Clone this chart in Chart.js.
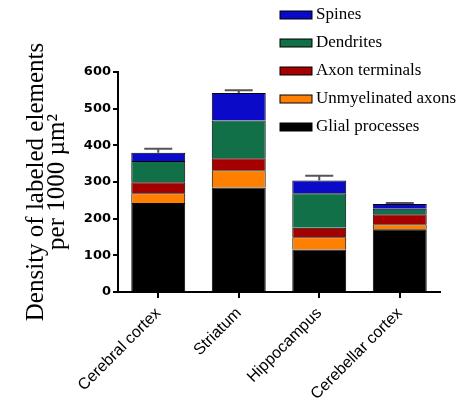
<!DOCTYPE html>
<html>
<head>
<meta charset="utf-8">
<script src="https://cdn.jsdelivr.net/npm/chart.js@4"></script>
<style>
  html, body { margin: 0; padding: 0; background: #fff; }
  #wrap { width: 463px; height: 408px; }
</style>
</head>
<body>
<div id="wrap"><canvas id="myChart" width="463" height="408"></canvas></div>
<script>
var regions = ['Cerebral cortex', 'Striatum', 'Hippocampus', 'Cerebellar cortex'];

// stacked from the bottom up
var glial = [243, 285, 116, 171];
var unmyelinated = [26, 47, 33, 14];
var axonTerminals = [30, 33, 26, 27];
var dendrites = [58, 103, 94, 15];
var spines = [23, 75, 35, 13];
var totalError = [11, 7, 13, 3];

var yTicks = [0, 100, 200, 300, 400, 500, 600];

// error bar on top of each stack, upward only
var errorBars = {
  id: 'errorBars',
  afterDatasetsDraw: function (chart) {
    var c = chart.ctx;
    var y = chart.scales.y;
    var meta = chart.getDatasetMeta(chart.data.datasets.length - 1);
    c.save();
    c.strokeStyle = '#555';
    c.lineWidth = 2;
    regions.forEach(function (r, i) {
      var sum = 0;
      chart.data.datasets.forEach(function (ds) { sum += ds.data[i]; });
      var x = meta.data[i].x;
      var y0 = y.getPixelForValue(sum);
      var y1 = y.getPixelForValue(sum + totalError[i]);
      c.beginPath();
      c.moveTo(x, y0);
      c.lineTo(x, y1);
      c.moveTo(x - 14, y1);
      c.lineTo(x + 14, y1);
      c.stroke();
    });
    c.restore();
  }
};

// legend drawn top-right, list order reversed like the figure
var sideLegend = {
  id: 'sideLegend',
  afterDraw: function (chart) {
    var c = chart.ctx;
    var items = chart.data.datasets.slice().reverse();
    c.save();
    c.font = '17px "Liberation Serif", "Times New Roman", serif';
    c.textBaseline = 'middle';
    items.forEach(function (ds, k) {
      var cy = 15 + k * 28;
      c.fillStyle = ds.backgroundColor;
      c.fillRect(280, cy - 4, 32, 8);
      c.strokeStyle = '#000';
      c.lineWidth = 1;
      c.strokeRect(280, cy - 4, 32, 8);
      c.fillStyle = '#000';
      c.fillText(ds.label, 316, cy);
    });
    c.restore();
  }
};

var ctx = document.getElementById('myChart');

var myChart = new Chart(ctx, {
  type: 'bar',
  data: {
    labels: regions,
    datasets: [
      { label: 'Glial processes', data: glial, backgroundColor: '#000000' },
      { label: 'Unmyelinated axons', data: unmyelinated, backgroundColor: '#ff8000' },
      { label: 'Axon terminals', data: axonTerminals, backgroundColor: '#a50000' },
      { label: 'Dendrites', data: dendrites, backgroundColor: '#117048' },
      { label: 'Spines', data: spines, backgroundColor: '#0a0ac8' }
    ].map(function (d) {
      d.borderColor = '#000';
      d.borderWidth = 1;
      d.barPercentage = 0.67;
      d.categoryPercentage = 1;
      return d;
    })
  },
  options: {
    responsive: false,
    animation: false,
    layout: { padding: { top: 72, right: 23, left: 0, bottom: 0 } },
    plugins: { legend: { display: false }, tooltip: { enabled: false } },
    scales: {
      x: {
        stacked: true,
        grid: { display: true, drawOnChartArea: false, offset: false, drawTicks: true, tickLength: 6, color: '#000', lineWidth: 2 },
        border: { color: '#000', width: 2 },
        ticks: {
          color: '#000', maxRotation: 45, minRotation: 45, padding: 6,
          font: { family: 'Arial, "Liberation Sans", sans-serif', size: 16 }
        },
        afterFit: function (s) { s.height = 116; }
      },
      y: {
        stacked: true,
        min: 0, max: 600,
        afterBuildTicks: function (s) { s.ticks = yTicks.map(function (v) { return { value: v }; }); },
        grid: { display: true, drawOnChartArea: false, drawTicks: true, tickLength: 5, color: '#000', lineWidth: 2 },
        border: { color: '#000', width: 2 },
        ticks: {
          color: '#000', padding: 2,
          font: { family: '"DejaVu Sans", Arial, sans-serif', size: 13, weight: 'bold' }
        },
        title: {
          display: true,
          text: ['Density of labeled elements', 'per 1000 \u00b5m\u00b2'],
          color: '#000',
          padding: { top: 26, bottom: 0 },
          font: { family: '"Liberation Serif", "Times New Roman", serif', size: 25, lineHeight: 0.85 }
        },
        afterFit: function (s) { s.width = 118; }
      }
    }
  },
  plugins: [errorBars, sideLegend]
});
</script>
</body>
</html>
